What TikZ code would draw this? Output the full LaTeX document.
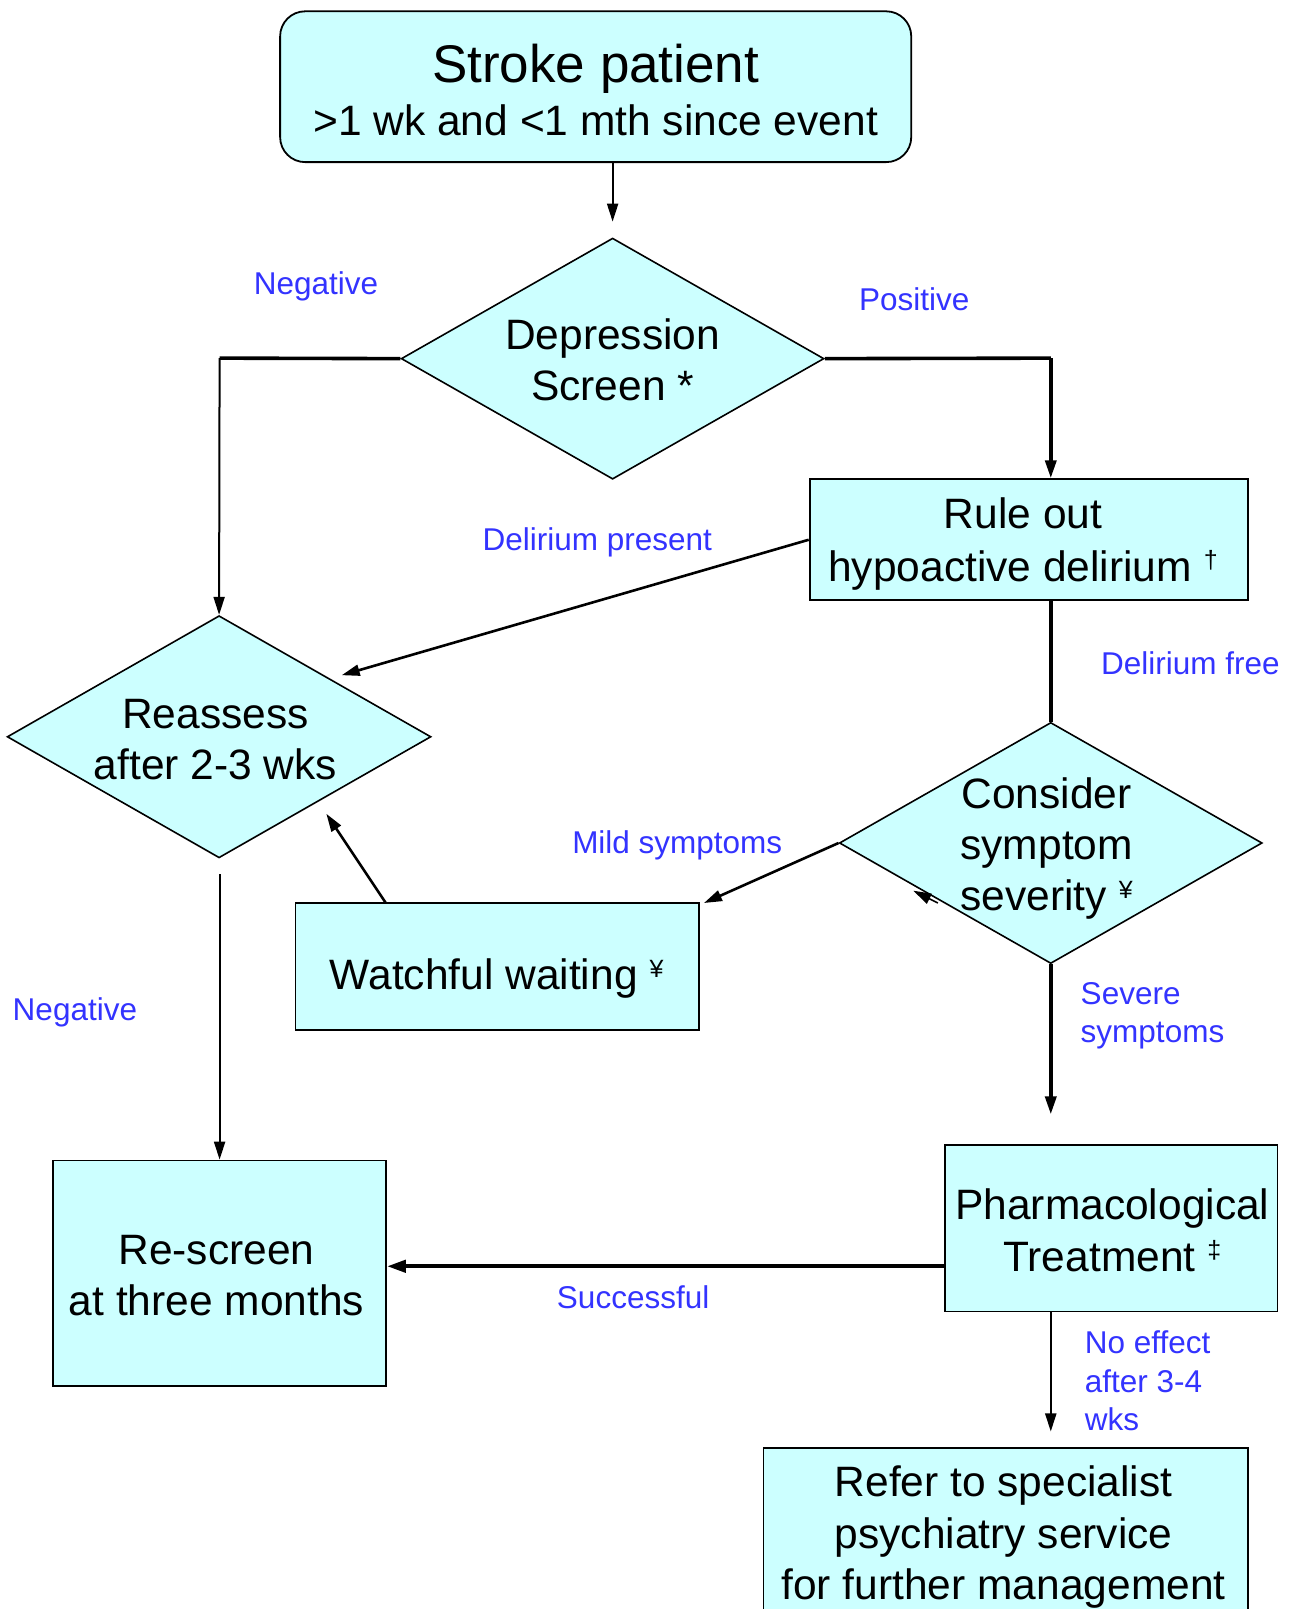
\documentclass[tikz,border=0pt]{standalone}
\usepackage{fontspec}
\setmainfont{Liberation Sans}
\usetikzlibrary{shapes.geometric,arrows.meta}
\definecolor{boxfill}{HTML}{CCFFFF}
\definecolor{lblue}{HTML}{3333FF}
\newcommand{\mainfs}{\fontsize{42.5}{51.3}\selectfont}
\newcommand{\titlefs}{\fontsize{53}{58}\selectfont}
\newcommand{\lblfs}{\fontsize{31.5}{38.5}\selectfont}
\newcommand{\supmark}[1]{\raisebox{0.3em}{\fontsize{25}{25}\selectfont #1}}
\begin{document}
\begin{tikzpicture}[x=1.02615pt,y=-1.02615pt,
  box/.style={draw=black,line width=1.8pt,fill=boxfill,inner sep=0pt},
  dbox/.style={draw=black,line width=1.6pt,fill=boxfill,shape=diamond,inner sep=0pt},
  txt/.style={align=center,inner sep=0pt,font=\mainfs},
  lbl/.style={text=lblue,inner sep=0pt,font=\lblfs},
  thin/.style={line width=2pt},
  thk/.style={line width=3.6pt},
  arr/.style={-{Triangle[length=18pt,width=11pt]}},
  arrb/.style={-{Triangle[length=19pt,width=12pt]}}]
\clip (0,0) rectangle (1262,1568);
\fill[white] (0,0) rectangle (1262,1568);
% nodes
\node[box,rounded corners=25pt,minimum width=631.1pt,minimum height=150.8pt] (stroke) at (580.5,84.5) {};
\node[txt] (strokeT) at (580.5,88) {{\titlefs Stroke patient}\\[2pt]{>1 wk and <1 mth since event}};
\node[dbox,minimum width=422.8pt,minimum height=241.1pt] (dep) at (597,349.5) {};
\node[txt] (depT) at (597,350.5) {Depression\\Screen *};
\node[box,minimum width=438.2pt,minimum height=121.1pt] (rule) at (1002.5,526) {};
\node[txt] (ruleT) at (997,530) {Rule out\\[2pt]hypoactive delirium \supmark{†}};
\node[dbox,minimum width=423.8pt,minimum height=242.2pt] (reas) at (213.5,718) {};
\node[txt] (reasT) at (210,720.5) {Reassess\\after 2-3 wks};
\node[dbox,minimum width=422.8pt,minimum height=241.1pt] (cons) at (1024,821.5) {};
\node[txt] (consT) at (1020,827) {Consider\\symptom\\severity \supmark{¥}};
\node[box,minimum width=403.3pt,minimum height=127.2pt] (watch) at (484.5,942) {};
\node[txt] (watchT) at (484,954) {Watchful waiting \supmark{¥}};
\node[box,minimum width=332.5pt,minimum height=166.2pt] (pharm) at (1083,1197) {};
\node[txt] (pharmT) at (1084,1199) {Pharmacological\\Treatment \supmark{‡}};
\node[box,minimum width=332.5pt,minimum height=225.8pt] (rescr) at (214,1241) {};
\node[txt] (rescrT) at (211,1243) {Re-screen\\at three months};
\node[box,minimum width=484.3pt,minimum height=172.4pt] (refer) at (980,1495) {};
\node[txt] (referT) at (978,1498) {Refer to specialist\\psychiatry service\\for further management};
% coordinates
\coordinate (c1) at (597,216);
\coordinate (c2) at (214,349);
\coordinate (c3) at (1024,349);
\coordinate (c4) at (333,658);
\coordinate (c5) at (686,880);
\coordinate (c6) at (376,880);
\coordinate (c7) at (318,793);
\coordinate (c8) at (214,852);
\coordinate (c9) at (1024,1086);
\coordinate (c10) at (921,1234);
\coordinate (c11) at (377,1234);
\coordinate (c12) at (1024,1395);
\coordinate (c13) at (914,880);
\coordinate (c14) at (890,868);
% connectors
\draw[thin,arr] (stroke.south -| c1) -- (c1);
\draw[thk] (dep.west) -- (c2);
\draw[thin,arr] (c2) -- (reas.north);
\draw[thk] (dep.east) -- (c3);
\draw[thk,arr] (c3) -- (c3 |- rule.north);
\draw[line width=2.6pt,arr] (rule.west) -- (c4);
\draw[thk] (rule.south -| c3) -- (cons.north);
\draw[line width=2.6pt,arr] (cons.west) -- (c5);
\draw[line width=2.6pt,arr] (c6) -- (c7);
\draw[thin,arr] (c8) -- (rescr.north);
\draw[thk,arr] (cons.south) -- (c9);
\draw[line width=4.2pt,arrb] (c10) -- (c11);
\draw[thin,arr] (pharm.south -| c12) -- (c12);
\draw[line width=1.5pt,arr] (c13) -- (c14);
% labels
\node[lbl] (l1) at (308,279) {Negative};
\node[lbl] (l2) at (891,292) {Positive};
\node[lbl] (l3) at (582,529) {Delirium present};
\node[lbl] (l4) at (1160,646) {Delirium free};
\node[lbl] (l5) at (660,824) {Mild symptoms};
\node[lbl] (l6) at (73,987) {Negative};
\node[lbl,anchor=west,align=left] (l7) at (1053,990) {Severe\\symptoms};
\node[lbl] (l8) at (617,1264) {Successful};
\node[lbl,anchor=west,align=left] (l9) at (1057,1346) {No effect\\after 3-4\\wks};
\end{tikzpicture}
\end{document}
